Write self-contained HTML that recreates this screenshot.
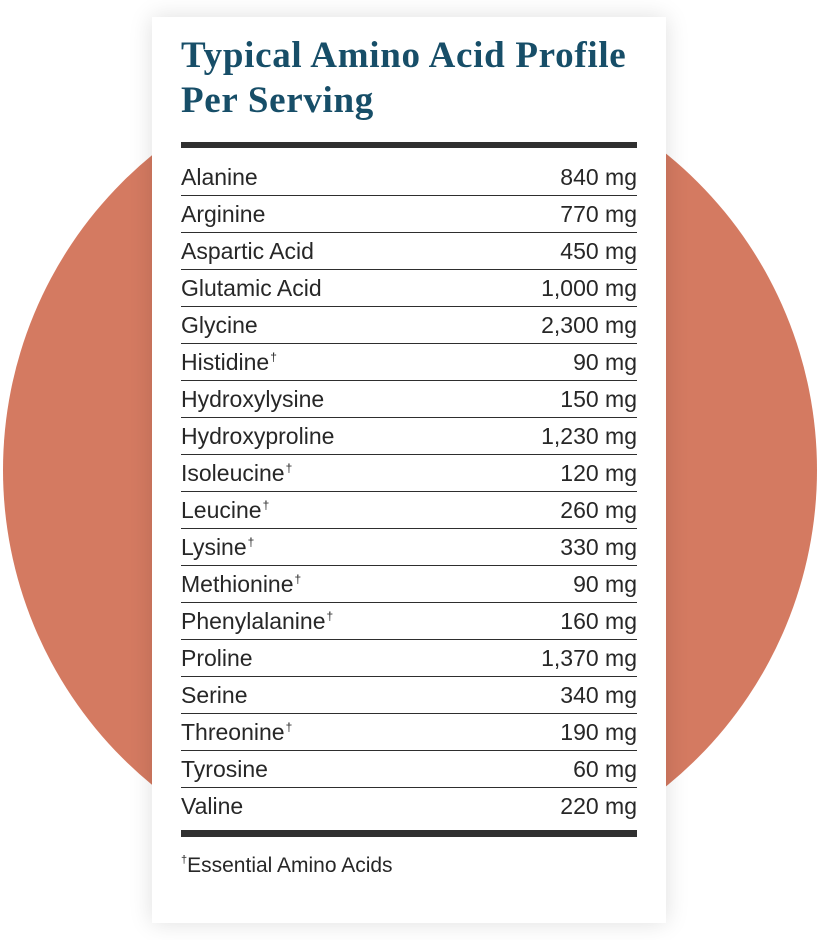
<!DOCTYPE html>
<html>
<head>
<meta charset="utf-8">
<style>
  html, body { margin:0; padding:0; }
  body { width:819px; height:940px; position:relative; background:#ffffff; overflow:hidden; }
  .circle {
    position:absolute; left:3px; top:63px; width:814px; height:814px; border-radius:50%;
    background:#d47a61;
  }
  .card {
    position:absolute; left:152px; top:17px; width:514px; height:906px; background:#ffffff;
    box-shadow:0 0 22px rgba(0,0,0,0.13);
  }
  .title {
    position:absolute; left:181px; top:33px; width:480px;
    font-family:"Liberation Serif", serif; font-weight:bold; font-size:37px; line-height:45px;
    letter-spacing:0.7px; color:#174e68; white-space:nowrap;
  }
  .table { position:absolute; left:181px; top:142px; width:456px; }
  .rule { height:6px; background:#303030; }
  .rows { margin-top:11px; }
  .row {
    height:36px; line-height:36px; border-bottom:1px solid #2e2e2e;
    display:flex; justify-content:space-between;
    font-family:"Liberation Sans", sans-serif; font-size:23px; color:#272727;
    white-space:nowrap;
  }
  .row.last { border-bottom:none; }
  .dag { font-size:12px; position:relative; top:-9px; margin-left:1px; }
  .rule2 { margin-top:6px; height:7px; background:#303030; }
  .foot {
    position:absolute; left:181px; top:854px;
    font-family:"Liberation Sans", sans-serif; font-size:21px; line-height:24px; color:#272727;
    white-space:nowrap;
  }
  .foot .d { font-size:11px; position:relative; top:-9px; }
</style>
</head>
<body>
<div class="circle"></div>
<div class="card"></div>
<div class="title">Typical Amino Acid Profile<br>Per Serving</div>
<div class="table">
  <div class="rule"></div>
  <div class="rows">
    <div class="row"><span>Alanine</span><span>840 mg</span></div>
    <div class="row"><span>Arginine</span><span>770 mg</span></div>
    <div class="row"><span>Aspartic Acid</span><span>450 mg</span></div>
    <div class="row"><span>Glutamic Acid</span><span>1,000 mg</span></div>
    <div class="row"><span>Glycine</span><span>2,300 mg</span></div>
    <div class="row"><span>Histidine<span class="dag">†</span></span><span>90 mg</span></div>
    <div class="row"><span>Hydroxylysine</span><span>150 mg</span></div>
    <div class="row"><span>Hydroxyproline</span><span>1,230 mg</span></div>
    <div class="row"><span>Isoleucine<span class="dag">†</span></span><span>120 mg</span></div>
    <div class="row"><span>Leucine<span class="dag">†</span></span><span>260 mg</span></div>
    <div class="row"><span>Lysine<span class="dag">†</span></span><span>330 mg</span></div>
    <div class="row"><span>Methionine<span class="dag">†</span></span><span>90 mg</span></div>
    <div class="row"><span>Phenylalanine<span class="dag">†</span></span><span>160 mg</span></div>
    <div class="row"><span>Proline</span><span>1,370 mg</span></div>
    <div class="row"><span>Serine</span><span>340 mg</span></div>
    <div class="row"><span>Threonine<span class="dag">†</span></span><span>190 mg</span></div>
    <div class="row"><span>Tyrosine</span><span>60 mg</span></div>
    <div class="row last"><span>Valine</span><span>220 mg</span></div>
  </div>
  <div class="rule2"></div>
</div>
<div class="foot"><span class="d">†</span>Essential Amino Acids</div>
</body>
</html>
